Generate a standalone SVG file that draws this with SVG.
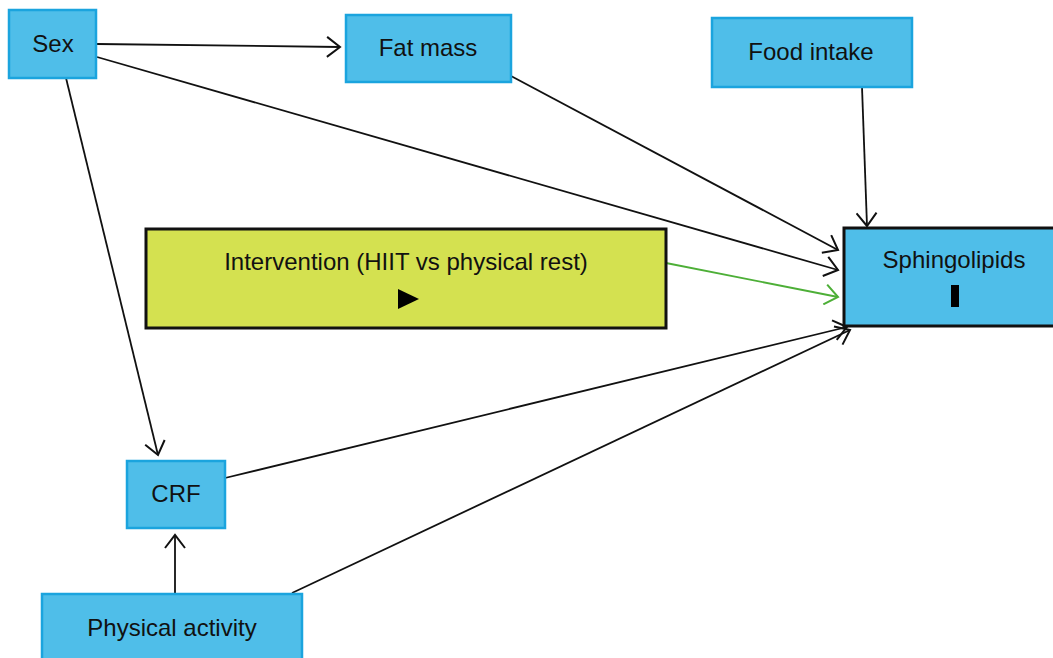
<svg xmlns="http://www.w3.org/2000/svg" width="1053" height="658" viewBox="0 0 1053 658">
<style>
.b{fill:#4FBEE9;stroke:#1BA4DE;stroke-width:2.5}
.t{font-family:"Liberation Sans",Arial,sans-serif;font-size:24px;fill:#111;text-anchor:middle}
.c{fill:none;stroke:#111;stroke-width:1.8}
</style>
<defs>
<marker id="a" viewBox="0 0 16 22" refX="14" refY="11" markerWidth="16" markerHeight="22" markerUnits="userSpaceOnUse" orient="auto">
<path d="M1,1 L14,11 L1,21" fill="none" stroke="#111" stroke-width="2"/>
</marker>
<marker id="g" viewBox="0 0 16 22" refX="14" refY="11" markerWidth="16" markerHeight="22" markerUnits="userSpaceOnUse" orient="auto">
<path d="M1,1 L14,11 L1,21" fill="none" stroke="#4DAF37" stroke-width="2"/>
</marker>
</defs>
<rect width="1053" height="658" fill="#fff"/>
<g id="connectors">
<line class="c" x1="97" y1="44" x2="340" y2="47" marker-end="url(#a)"/>
<line class="c" x1="97" y1="57" x2="838" y2="270" marker-end="url(#a)"/>
<line class="c" x1="66" y1="78" x2="158" y2="455" marker-end="url(#a)"/>
<line class="c" x1="511" y1="76" x2="838" y2="250" marker-end="url(#a)"/>
<line class="c" x1="862" y1="87" x2="867" y2="226" marker-end="url(#a)"/>
<line x1="666" y1="263" x2="838" y2="297" fill="none" stroke="#4DAF37" stroke-width="1.8" marker-end="url(#g)"/>
<line class="c" x1="225" y1="478" x2="847" y2="327" marker-end="url(#a)"/>
<line class="c" x1="292" y1="593" x2="850" y2="330" marker-end="url(#a)"/>
<line class="c" x1="175" y1="593" x2="175" y2="535" marker-end="url(#a)"/>
</g>
<g id="sex"><rect class="b" x="9" y="10" width="87" height="68"/><text class="t" x="53" y="52">Sex</text></g>
<g id="fatmass"><rect class="b" x="346" y="15" width="165" height="67"/><text class="t" x="428" y="56">Fat mass</text></g>
<g id="foodintake"><rect class="b" x="712" y="18" width="200" height="69"/><text class="t" x="811" y="60">Food intake</text></g>
<g id="sphingolipids"><rect x="844" y="228" width="212" height="98" fill="#4FBEE9" stroke="#111" stroke-width="3"/><text class="t" x="954" y="268">Sphingolipids</text><rect x="951" y="285" width="8" height="22" fill="#000"/></g>
<g id="intervention"><rect x="146" y="229" width="520" height="99" fill="#D4E150" stroke="#111" stroke-width="3"/><text class="t" x="406" y="270">Intervention (HIIT vs physical rest)</text><path d="M398,289 L419,299 L398,309 Z" fill="#000"/></g>
<g id="crf"><rect class="b" x="127" y="461" width="98" height="67" /><text class="t" x="176" y="502">CRF</text></g>
<g id="physicalactivity"><rect class="b" x="42" y="594" width="260" height="70"/><text class="t" x="172" y="636">Physical activity</text></g>
</svg>
